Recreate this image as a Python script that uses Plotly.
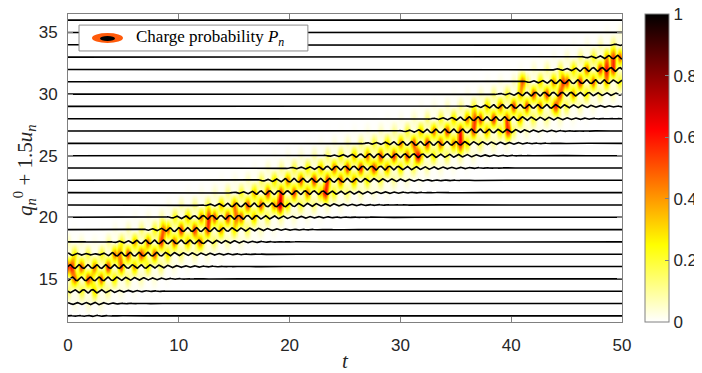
import numpy as np
import plotly.graph_objects as go

# ---------------- data ----------------
sites = list(range(12, 37))                      # lattice sites n (q_n^0 = n)
# centre of the charge band vs time
track_t = [0, 1, 2.5, 4, 6, 8, 10, 12, 14, 16, 18, 20, 22, 24, 26, 28, 30, 32, 34, 36, 38, 40, 42, 44, 46, 48, 50]
track_c = [15.8, 15.6, 15.2, 16.2, 17.0, 17.6, 18.8, 19.2, 20.0, 20.6, 21.6, 22.3, 22.8, 23.4, 24.0, 24.6,
           25.2, 26.0, 26.6, 27.2, 28.0, 28.6, 29.6, 30.2, 31.0, 31.8, 32.5]
# strong (orange / red) probability spots: time, site, probability
hot_t = [0.3, 0.6, 2.0, 4.6, 6.7, 8.6, 11.9, 12.7, 15.2, 19.1, 23.2, 27.6, 31.6, 35.4, 36.7, 39.7, 41.0, 44.0, 44.7, 48.6, 49.2]
hot_n = [16, 15, 15, 17, 17, 19, 18, 20, 20, 21, 22, 24, 25, 26, 28, 27, 31, 29, 31, 32, 33]
hot_p = [0.62, 0.50, 0.42, 0.45, 0.50, 0.52, 0.50, 0.60, 0.50, 0.75, 0.65, 0.60, 0.70, 0.65, 0.55, 0.60, 0.50, 0.60, 0.60, 0.62, 0.55]
band_level = 0.6         # typical peak probability of a blob
blob_period = 1.2        # time between probability pulses
wiggle_period = 0.8      # lattice oscillation period
wiggle_amp = 0.15        # 1.5*u_n amplitude near the charge

x_ticks = [0, 10, 20, 30, 40, 50]
y_ticks = [15, 20, 25, 30, 35]
cb_ticks = [0, 0.2, 0.4, 0.6, 0.8, 1]
cb_text = ['0', '0.2', '0.4', '0.6', '0.8', '1']

# ---------------- build fields ----------------
t = np.arange(0, 50.0001, 0.05)
c = np.interp(t, track_t, track_c)

P = np.zeros((len(sites), len(t)))
for i, n in enumerate(sites):
    d = n - c
    env = np.exp(-d ** 2 / (2 * 1.1 ** 2))
    phase = 0.5 * blob_period * (n % 2)
    pulse = 0.05 + 0.95 * (0.5 + 0.5 * np.cos(2 * np.pi * (t - phase) / blob_period)) ** 1.6
    P[i] = band_level * env * pulse
for ht, hn, hp in zip(hot_t, hot_n, hot_p):
    i = sites.index(hn)
    P[i] = np.maximum(P[i], hp * np.exp(-(t - ht) ** 2 / (2 * 0.25 ** 2)))

hot_r = [[0, 'rgb(255,255,255)'], [0.25, 'rgb(255,255,0)'],
         [0.625, 'rgb(255,0,0)'], [1, 'rgb(0,0,0)']]

fig = go.Figure()
fig.add_trace(go.Heatmap(
    x=t, y=sites, z=P, zmin=0, zmax=1, zsmooth='best', colorscale=hot_r,
    hoverinfo='skip',
    colorbar=dict(x=1.0415, xanchor='left', xpad=0, y=0.5, yanchor='middle', len=1, lenmode='fraction',
                  thickness=24, thicknessmode='pixels', ypad=0,
                  outlinecolor='#808080', outlinewidth=1,
                  tickvals=cb_ticks, ticktext=cb_text, ticklabeloverflow='allow',
                  ticks='inside', ticklen=4, tickcolor='#808080',
                  tickfont=dict(family='Liberation Sans, Arial', size=17, color='#262626'))))

for n in sites:
    d = n - c
    amp = np.where(d > 0.5, np.exp(-(d - 0.5) ** 2 / (2 * 0.8 ** 2)),
                   np.where(d < -0.5, np.exp(-(d + 0.5) ** 2 / (2 * 1.8 ** 2)), 1.0))
    y = n + wiggle_amp * amp * np.sin(2 * np.pi * t / wiggle_period + n * np.pi / 2)
    fig.add_trace(go.Scatter(x=t, y=y, mode='lines', line=dict(color='black', width=1.6),
                             showlegend=False, hoverinfo='skip'))

axis_common = dict(showgrid=False, zeroline=False, showline=True, linecolor='#808080', linewidth=1,
                   mirror='ticks', ticks='inside', ticklen=5, tickcolor='#808080',
                   tickfont=dict(family='Liberation Sans, Arial', size=17, color='#262626'))
fig.update_xaxes(range=[0, 50], tickvals=x_ticks, ticklabelstandoff=8, **axis_common)
fig.update_yaxes(range=[11.5, 36.5], tickvals=y_ticks, ticklabelstandoff=6, **axis_common)

# legend drawn with shapes
fig.add_shape(type='rect', xref='paper', yref='paper', x0=0.0199, x1=0.433, y0=0.880, y1=0.964,
              fillcolor='white', line=dict(color='#8c8c8c', width=1), layer='above')
fig.add_shape(type='circle', xref='paper', yref='paper', x0=(92 - 68) / 554, x1=(123 - 68) / 554,
              y0=1 - (43 - 14) / 308, y1=1 - (33 - 14) / 308, fillcolor='#ff5a0a', line=dict(width=0), layer='above')
fig.add_shape(type='circle', xref='paper', yref='paper', x0=(100 - 68) / 554, x1=(115 - 68) / 554,
              y0=1 - (41 - 14) / 308, y1=1 - (36 - 14) / 308, fillcolor='black', line=dict(width=0), layer='above')

serif = 'Liberation Serif, Times New Roman, serif'
fig.add_annotation(xref='paper', yref='paper', x=(134 - 68) / 554, y=1 - (38 - 14) / 308,
                   xanchor='left', yanchor='middle', showarrow=False,
                   text='Charge probability <i>P</i><sub><i>n</i></sub>',
                   font=dict(family=serif, size=17, color='black'))
fig.add_annotation(xref='paper', yref='paper', x=(25 - 68) / 554, y=1 - (170 - 14) / 308,
                   xanchor='center', yanchor='middle', showarrow=False, textangle=-90,
                   text='<i>q</i><sub><i>n</i></sub><sup>0</sup> + 1.5<i>u</i><sub><i>n</i></sub>',
                   font=dict(family=serif, size=21, color='#262626'))
fig.add_annotation(xref='paper', yref='paper', x=(345 - 68) / 554, y=-(361 - 322) / 308,
                   xanchor='center', yanchor='middle', showarrow=False,
                   text='<i>t</i>', font=dict(family=serif, size=21, color='#262626'))

# page body has an 8px margin, so the figure is shifted by 8px
fig.update_layout(width=694, height=365, autosize=False,
                  margin=dict(l=60, r=80, t=6, b=51, pad=0, autoexpand=False),
                  paper_bgcolor='white', plot_bgcolor='white', showlegend=False)

fig.write_html('out.html')
